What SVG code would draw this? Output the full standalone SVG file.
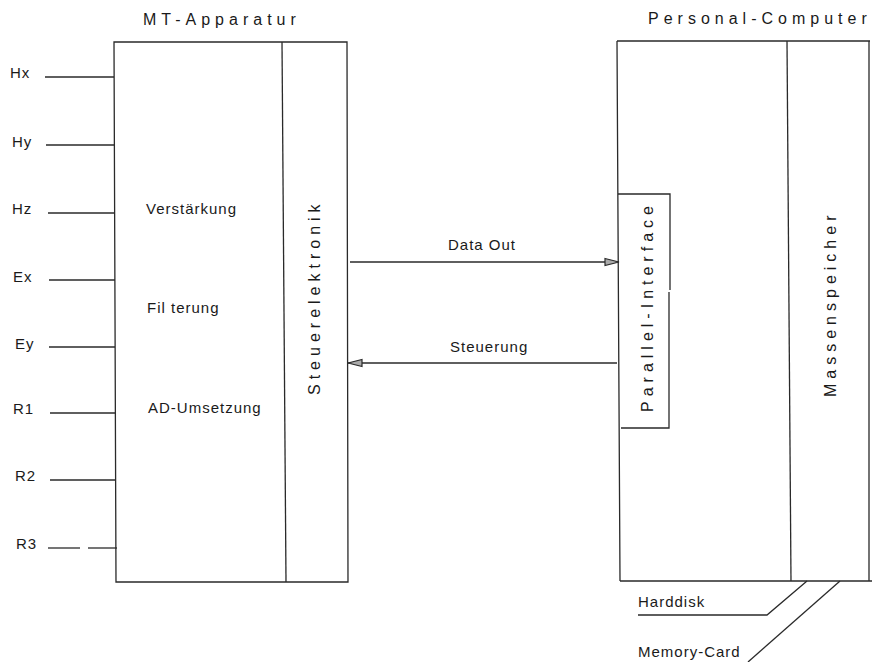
<svg xmlns="http://www.w3.org/2000/svg" width="872" height="662" viewBox="0 0 872 662">
<style>
.ln{fill:none;stroke:#2a2a2a;stroke-width:1.3}
.t{font-family:"Liberation Sans",Arial,sans-serif;font-size:15px;fill:#1a1a1a;letter-spacing:1px}
.ts{font-family:"Liberation Sans",Arial,sans-serif;font-size:16px;fill:#1a1a1a;letter-spacing:5px}
</style>
<defs>
<marker id="arr" viewBox="0 0 16 10" refX="15" refY="5" markerWidth="16" markerHeight="10" markerUnits="userSpaceOnUse" orient="auto">
<path d="M1,1.5 L15,5 L1,8.5 Z" fill="#aaa" stroke="#2a2a2a" stroke-width="1.2"/>
</marker>
</defs>
<rect width="872" height="662" fill="#fff"/>

<g id="mt-apparatur">
<text class="ts" x="143" y="25">MT-Apparatur</text>
<path class="ln" d="M114,42 L347,42 L348,582 L116,582 Z"/>
<text class="t" x="146" y="214">Verstärkung</text>
<text class="t" x="147" y="313">Fil terung</text>
<text class="t" x="148" y="413">AD-Umsetzung</text>
</g>

<g id="steuerelektronik">
<path class="ln" d="M282,42 L286,582"/>
<text class="ts" transform="translate(320,395) rotate(-90)">Steuerelektronik</text>
</g>

<g id="personal-computer">
<text class="ts" x="648" y="24">Personal-Computer</text>
<path class="ln" d="M617,41 L870,41 M617,41 L620,581 M620,581 L872,581 M869,41 L869,581"/>
</g>

<g id="parallel-interface">
<path class="ln" d="M618,194 L670,194 L670,290 M669,292 L669,428 L621,428"/>
<text class="ts" transform="translate(653,412) rotate(-90)">Parallel-Interface</text>
</g>

<g id="massenspeicher">
<path class="ln" d="M787,41 L791,581"/>
<text class="ts" transform="translate(836,397) rotate(-90)">Massenspeicher</text>
</g>

<g id="inputs">
<text class="t" x="10" y="78">Hx</text>
<text class="t" x="12" y="147">Hy</text>
<text class="t" x="12" y="214">Hz</text>
<text class="t" x="13" y="282">Ex</text>
<text class="t" x="15" y="349">Ey</text>
<text class="t" x="13" y="414">R1</text>
<text class="t" x="15" y="481">R2</text>
<text class="t" x="16" y="549">R3</text>
</g>

<g id="storage">
<text class="t" x="638" y="607">Harddisk</text>
<text class="t" x="638" y="657">Memory-Card</text>
</g>

<g id="connectors">
<path class="ln" d="M45,77 L114,77"/>
<path class="ln" d="M46,145 L114,145"/>
<path class="ln" d="M48,213 L115,213"/>
<path class="ln" d="M49,280 L115,280"/>
<path class="ln" d="M49,347 L115,347"/>
<path class="ln" d="M50,413 L116,413"/>
<path class="ln" d="M50,480 L116,480"/>
<path class="ln" d="M48,548 L80,548"/>
<path class="ln" d="M88,548 L117,548" stroke="#888"/>
<path class="ln" d="M350,262 L619,262" marker-end="url(#arr)"/>
<path class="ln" d="M617,363 L348,363" marker-end="url(#arr)"/>
<text class="t" x="448" y="250">Data Out</text>
<text class="t" x="450" y="352">Steuerung</text>
<path class="ln" d="M638,615 L767,615 L807,581"/>
<path class="ln" d="M748,662 L840,581"/>
</g>
</svg>
